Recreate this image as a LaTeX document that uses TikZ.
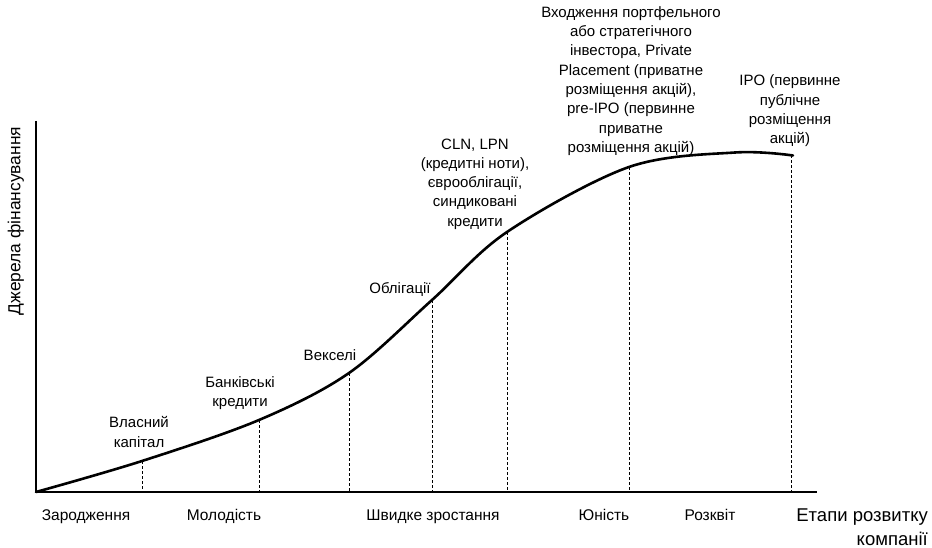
\documentclass[tikz,border=0pt]{standalone}
\usepackage{fontspec}
\setmainfont{Liberation Sans}
\usepackage{tikz}
\tikzset{
  lbl/.style={align=center, inner sep=0pt, font=\fontsize{15}{19.3}\selectfont},
  stage/.style={anchor=base, inner sep=0pt, font=\fontsize{15.5}{18}\selectfont},
  drop/.style={dash pattern=on 3pt off 2pt, line width=0.8pt},
}

\begin{document}
\begin{tikzpicture}[x=1pt, y=-1pt]
    \useasboundingbox (0, 0) rectangle (932, 548);
    % axes
    \coordinate (o) at (36, 492);
    \coordinate (ytop) at (36, 121);
    \coordinate (xend) at (817, 492);
    \draw[line width=1.3pt] (ytop) -- (o) -- (xend);
    % points on the curve
    \coordinate (p1) at (142, 461);
    \coordinate (p2) at (259, 420);
    \coordinate (p3) at (349, 373);
    \coordinate (p4) at (432, 300);
    \coordinate (p5) at (507, 232);
    \coordinate (p6) at (629, 167);
    \coordinate (p7) at (791, 155);
    \draw[line width=2.6pt, line cap=round] plot[smooth, tension=0.55] coordinates
      {(36, 492) (142, 461) (259, 420) (349, 373) (432, 300) (507, 232) (629, 167) (735, 152.5) (793, 155.5)};
    \foreach \p in {p1, p2, p3, p4, p5, p6, p7}
      \draw[drop] (\p) -- (\p |- o);
    % sources
    \node[lbl] (own) at (139, 432) {Власний\\капітал};
    \node[lbl] (bank) at (240, 393) {Банківські\\кредити};
    \node[lbl] (bills) at (330, 355) {Векселі};
    \node[lbl] (bonds) at (400, 289) {Облігації};
    \node[lbl] (cln) at (475, 184) {CLN, LPN\\(кредитні ноти),\\єврооблігації,\\синдиковані\\кредити};
    \node[lbl] (priv) at (631, 81) {Входження портфельного\\або стратегічного\\інвестора, Private\\Placement (приватне\\розміщення акцій),\\pre-IPO (первинне\\приватне\\розміщення акцій)};
    \node[lbl] (ipo) at (790, 111) {IPO (первинне\\публічне\\розміщення\\акцій)};
    % stages
    \node[stage] (s1) at (86, 520) {Зародження};
    \node[stage] (s2) at (224, 520) {Молодість};
    \node[stage] (s3) at (433, 520) {Швидке зростання};
    \node[stage] (s4) at (604, 520) {Юність};
    \node[stage] (s5) at (710, 520) {Розквіт};
    % axis titles
    \node[align=right, anchor=north east, inner sep=0pt, font=\fontsize{18.5}{24}\selectfont] (xlab) at (928, 509) {Етапи розвитку\\компанії};
    \node[rotate=90, inner sep=0pt, font=\fontsize{17.4}{20}\selectfont] (ylab) at (16, 221) {Джерела фінансування};
\end{tikzpicture}
\end{document}
